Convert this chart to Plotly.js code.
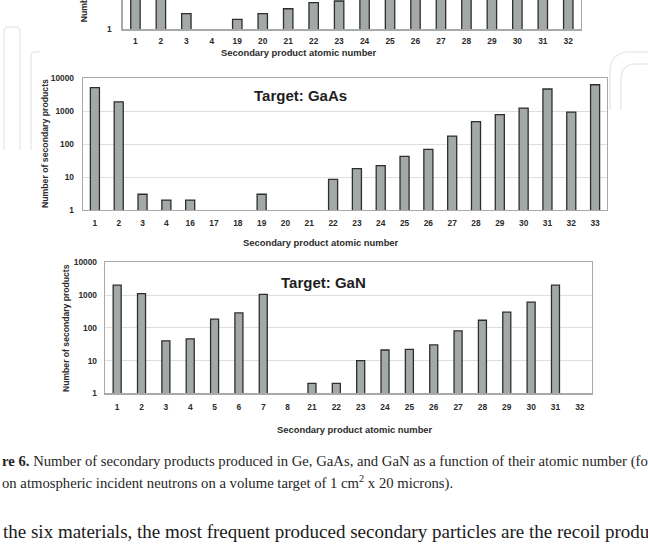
<!DOCTYPE html>
<html>
<head>
<meta charset="utf-8">
<script src="https://cdn.plot.ly/plotly-3.0.1.min.js"></script>
<style>
  html, body { margin: 0; padding: 0; background: #ffffff; }
  #chart { width: 648px; height: 548px; }
</style>
</head>
<body>
<div id="chart"></div>
<script>
// Secondary products produced in Ge, GaAs and GaN targets, by atomic number

const geCats = ['1', '2', '3', '4', '19', '20', '21', '22', '23', '24', '25', '26', '27', '28', '29', '30', '31', '32'];
const geCounts = [4000, 1500, 3, null, 2, 3, 4.2, 6.4, 7.2, 15, 30, 60, 150, 400, 700, 1200, 3000, 6000];

const gaasCats = ['1', '2', '3', '4', '16', '17', '18', '19', '20', '21', '22', '23', '24', '25', '26', '27', '28', '29', '30', '31', '32', '33'];
const gaasCounts = [5100, 1900, 3, 2, 2, null, null, 3, null, null, 8.5, 18, 22, 42, 69, 174, 475, 775, 1230, 4640, 930, 6250];

const ganCats = ['1', '2', '3', '4', '5', '6', '7', '8', '21', '22', '23', '24', '25', '26', '27', '28', '29', '30', '31', '32'];
const ganCounts = [2000, 1100, 40, 46, 185, 285, 1050, null, 2, 2, 10, 21, 22, 30, 80, 170, 300, 610, 2000, null];

const logTickVals = [1, 10, 100, 1000, 10000];
const logTickText = ['1', '10', '100', '1000', '10000'];

const yTitle = 'Number of secondary products';
const xTitle = 'Secondary product atomic number';
const captionLead = 're 6.';
const captionRest = ' Number of secondary products produced in Ge, GaAs, and GaN as a function of their atomic number (for';
const captionLine2 = 'on atmospheric incident neutrons on a volume target of 1 cm<sup>2</sup> x 20 microns).';
const bodyLine = 'the six materials, the most frequent produced secondary particles are the recoil produ';

// page geometry helpers (pixels -> paper fractions)
const W = 648, H = 548;
const px = v => v / W;
const py = v => 1 - v / H;

const SANS = 'Liberation Sans, Arial, sans-serif';
const SERIF = 'Liberation Serif, Times New Roman, serif';
const BAR_FILL = '#a3a9a5';
const BAR_EDGE = '#2e2e2e';
const FRAME = '#a9a9a9';
const GRID = '#dedede';
const TEXT = '#2b2b2b';

function barTrace(cats, vals, xa, ya, w) {
  return {
    type: 'bar', x: cats, y: vals, xaxis: xa, yaxis: ya, width: w,
    marker: { color: BAR_FILL, line: { color: BAR_EDGE, width: 1.3 } },
    hoverinfo: 'x+y', showlegend: false
  };
}

function xAxis(domain, n, mirror, anchor, standoff) {
  return {
    domain: domain, anchor: anchor, type: 'category', range: [-0.5, n - 0.5],
    showline: true, linecolor: FRAME, linewidth: 1.3, mirror: mirror,
    showgrid: false, ticks: '', ticklabelstandoff: standoff, fixedrange: true,
    tickfont: { family: SANS, size: 8.4, color: TEXT, weight: 'bold' }
  };
}

function yAxis(domain, range, anchor, standoff) {
  return {
    domain: domain, anchor: anchor, type: 'log', range: range,
    tickmode: 'array', tickvals: logTickVals, ticktext: logTickText,
    showline: true, linecolor: FRAME, linewidth: 1.3, mirror: true,
    showgrid: true, gridcolor: GRID, gridwidth: 1, ticks: '', fixedrange: true,
    ticklabelstandoff: standoff,
    tickfont: { family: SANS, size: 8.4, color: TEXT, weight: 'bold' }
  };
}

// axis-break marks ("\\") sitting on the category axis
function breakMark(xa, ya, pos) {
  const line = { color: '#7a7a7a', width: 1.4 };
  const base = {
    type: 'line', xref: xa, yref: ya, xsizemode: 'pixel', ysizemode: 'pixel',
    xanchor: pos, yanchor: 0, line: line, layer: 'above'
  };
  return [
    Object.assign({}, base, { x0: -4, x1: 0.5, y0: 8, y1: -9 }),
    Object.assign({}, base, { x0: -0.8, x1: 3.7, y0: 8, y1: -9 })
  ];
}

// faint background logo strokes
const faint = { color: '#ececec', width: 1.6 };
const logoShapes = [
  { type: 'path', xref: 'paper', yref: 'paper', layer: 'below', line: faint,
    path: `M ${px(4)} ${py(150)} L ${px(4)} ${py(32)} Q ${px(4)} ${py(27)} ${px(9)} ${py(27)} L ${px(15)} ${py(27)} Q ${px(20)} ${py(27)} ${px(20)} ${py(32)} L ${px(20)} ${py(150)}` },
  { type: 'path', xref: 'paper', yref: 'paper', layer: 'below', line: faint,
    path: `M ${px(31)} ${py(150)} L ${px(31)} ${py(56)} Q ${px(31)} ${py(52)} ${px(35)} ${py(52)} L ${px(40)} ${py(52)}` },
  { type: 'path', xref: 'paper', yref: 'paper', layer: 'below', line: faint,
    path: `M ${px(610)} ${py(110)} L ${px(610)} ${py(72)} Q ${px(610)} ${py(52)} ${px(630)} ${py(52)} L ${px(648)} ${py(52)}` },
  { type: 'path', xref: 'paper', yref: 'paper', layer: 'below', line: faint,
    path: `M ${px(621)} ${py(110)} L ${px(621)} ${py(80)} Q ${px(621)} ${py(64)} ${px(636)} ${py(64)} L ${px(648)} ${py(64)}` }
];

const data = [
  barTrace(geCats, geCounts, 'x', 'y', 0.37),
  barTrace(gaasCats, gaasCounts, 'x2', 'y2', 0.38),
  barTrace(ganCats, ganCounts, 'x3', 'y3', 0.33)
];

// Ge panel: only its lower strip is on the page
const geBottom = 29.3, decade = 33;

function label(text, x, y, size, extra) {
  return Object.assign({
    text: text, xref: 'paper', yref: 'paper', x: px(x), y: py(y),
    xanchor: 'center', yanchor: 'middle', showarrow: false,
    font: { family: SANS, size: size, color: TEXT, weight: 'bold' }
  }, extra || {});
}

const layout = {
  width: W, height: H,
  margin: { l: 0, r: 0, t: 0, b: 0 },
  paper_bgcolor: '#ffffff', plot_bgcolor: '#ffffff',
  bargap: 0.6,
  xaxis: xAxis([px(122.7), px(581)], geCats.length, false, 'y', 3),
  yaxis: Object.assign(yAxis([py(geBottom), 1], [0, geBottom / decade], 'x', 8), { showgrid: false }),
  xaxis2: xAxis([px(83), px(607)], gaasCats.length, true, 'y2', 5),
  yaxis2: yAxis([py(210), py(78)], [0, 4], 'x2', 6),
  xaxis3: xAxis([px(105), px(592)], ganCats.length, true, 'y3', 5),
  yaxis3: yAxis([py(393.3), py(262.3)], [0, 4], 'x3', 5),
  shapes: [].concat(
    logoShapes,
    breakMark('x', 'y', 3.5),
    breakMark('x2', 'y2', 3.5),
    breakMark('x3', 'y3', 7.5)
  ),
  annotations: [
    // panel titles
    label('Target: GaAs', 300, 95, 15, { font: { family: SANS, size: 15, color: '#1e1e1e', weight: 'bold' } }),
    label('Target: GaN', 323, 282, 15, { font: { family: SANS, size: 15, color: '#1e1e1e', weight: 'bold' } }),
    // x-axis titles
    label(xTitle, 299, 53, 9.4),
    label(xTitle, 321, 242, 9.4),
    label(xTitle, 355, 429, 9.4),
    // y-axis titles
    label(yTitle, 83.5, 24.3, 8.7, { yanchor: 'bottom', textangle: -90 }),
    label(yTitle, 45, 144, 8.7, { textangle: -90 }),
    label(yTitle, 66, 328, 8.6, { textangle: -90 }),
    // figure caption and running text
    { text: '<b>' + captionLead + '</b>' + captionRest, xref: 'paper', yref: 'paper', x: 0, y: py(461),
      xanchor: 'left', yanchor: 'middle', showarrow: false, font: { family: SERIF, size: 14.7, color: '#262626' } },
    { text: captionLine2, xref: 'paper', yref: 'paper', x: 0, y: py(482),
      xanchor: 'left', yanchor: 'middle', showarrow: false, font: { family: SERIF, size: 14.7, color: '#262626' } },
    { text: bodyLine, xref: 'paper', yref: 'paper', x: px(1), y: py(531),
      xanchor: 'left', yanchor: 'middle', showarrow: false, font: { family: SERIF, size: 19, color: '#1a1a1a' } }
  ]
};

Plotly.newPlot('chart', data, layout, { displayModeBar: false, staticPlot: true });
</script>
</body>
</html>
